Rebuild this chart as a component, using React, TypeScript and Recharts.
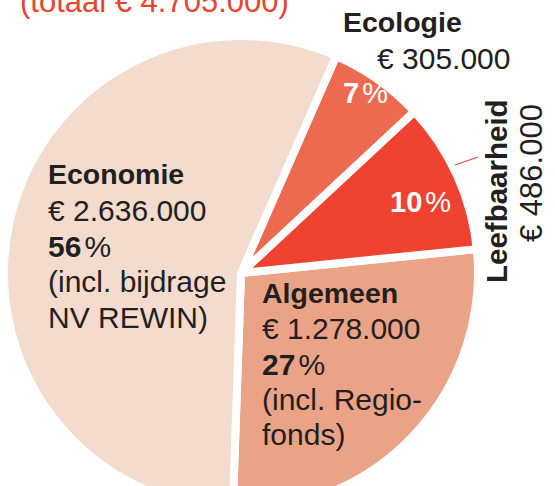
import { PieChart, Pie, Cell } from "recharts";

// volgorde tegen de klok in, vanaf de onderkant
const categories = ["Algemeen", "Leefbaarheid", "Ecologie", "Economie"];
const amounts = [1278000, 486000, 305000, 2636000];
const percents = [27, 10, 7, 56];
const colors = ["#eaa387", "#ef4231", "#ec6b50", "#f3dbcd"];
const total = 4705000;

const data = categories.map((name, i) => ({ name, value: amounts[i] }));

const FONT = "'Liberation Sans', Arial, Helvetica, sans-serif";
const DARK = "#231f20";
const RED = "#e8452f";

const euro = (n: number) =>
  "€ " + String(n).replace(/\B(?=(\d{3})+(?!\d))/g, ".");

function Pct({
  x,
  y,
  value,
  fill,
  size = 30,
}: {
  x: number;
  y: number;
  value: number;
  fill: string;
  size?: number;
}) {
  return (
    <text x={x} y={y} fill={fill} fontFamily={FONT} fontSize={size}>
      <tspan fontWeight="bold">{value}</tspan>
      <tspan dx={3}>%</tspan>
    </text>
  );
}

function Labels() {
  const line = (x: number, y: number, s: string, bold = false) => (
    <text
      x={x}
      y={y}
      fill={DARK}
      fontFamily={FONT}
      fontSize={bold ? 28.5 : 30}
      fontWeight={bold ? "bold" : "normal"}
    >
      {s}
    </text>
  );
  return (
    <g>
      <text x={20} y={12} fill={RED} fontFamily={FONT} fontSize={31}>
        {"(totaal " + euro(total) + ")"}
      </text>

      {/* Economie */}
      {line(48, 184, categories[3], true)}
      {line(48, 221, euro(amounts[3]))}
      <Pct x={48} y={257} value={percents[3]} fill={DARK} />
      {line(48, 292, "(incl. bijdrage")}
      {line(48, 328, "NV REWIN)")}

      {/* Algemeen */}
      {line(262, 303, categories[0], true)}
      {line(262, 339, euro(amounts[0]))}
      <Pct x={262} y={375} value={percents[0]} fill={DARK} />
      {line(262, 410, "(incl. Regio-")}
      {line(262, 445, "fonds)")}

      {/* Ecologie */}
      {line(343, 32, categories[2], true)}
      {line(377, 69, euro(amounts[2]))}
      <Pct x={343} y={103} value={percents[2]} fill="#fff" size={29} />

      {/* Leefbaarheid */}
      <Pct x={390} y={212} value={percents[1]} fill="#fff" size={29} />
      <line x1={455} y1={165} x2={478} y2={157} stroke={RED} strokeWidth={1.2} />
      <text
        transform="translate(507,283) rotate(-90)"
        fill={DARK}
        fontFamily={FONT}
        fontSize={29.5}
        fontWeight="bold"
      >
        {categories[1]}
      </text>
      <text
        transform="translate(542,242) rotate(-90)"
        fill={DARK}
        fontFamily={FONT}
        fontSize={31}
      >
        {euro(amounts[1])}
      </text>
    </g>
  );
}

export default function App() {
  return (
    <div style={{ position: "absolute", left: 0, top: 0, background: "#fff" }}>
      <PieChart width={555} height={486} margin={{ top: 0, right: 0, bottom: 0, left: 0 }}>
        <Pie
          data={data}
          dataKey="value"
          nameKey="name"
          cx={241}
          cy={273}
          innerRadius={0}
          outerRadius={237}
          startAngle={-92}
          endAngle={268}
          stroke="#fff"
          strokeWidth={8}
          labelLine={false}
          label={(p: { index: number }) =>
            p.index === 0 ? <Labels key="labels" /> : null
          }
          isAnimationActive={false}
        >
          {data.map((d, i) => (
            <Cell key={d.name} fill={colors[i]} strokeLinejoin="round" />
          ))}
        </Pie>
      </PieChart>
    </div>
  );
}
